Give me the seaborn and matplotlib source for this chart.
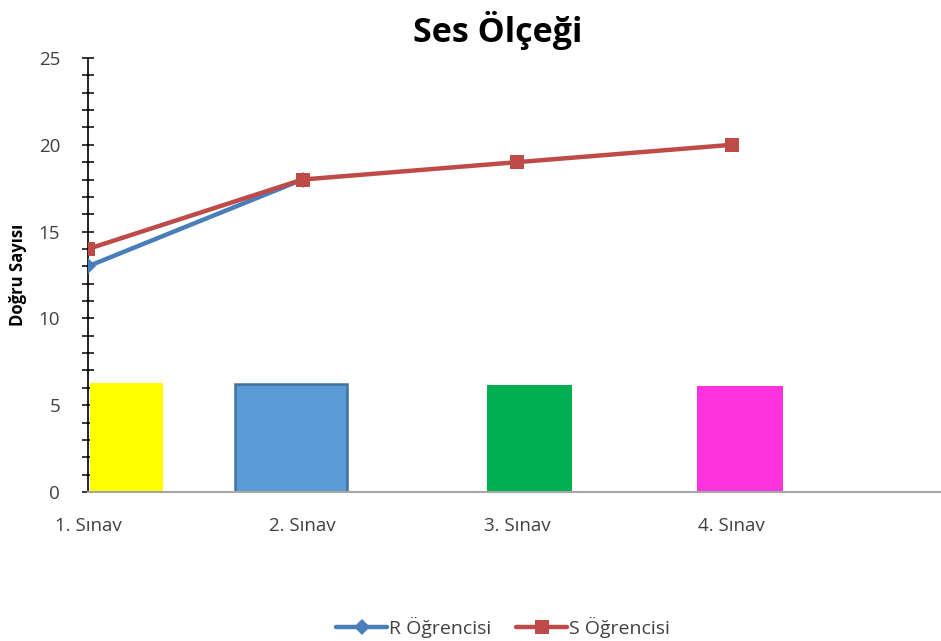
import matplotlib
matplotlib.use("Agg")
import matplotlib.pyplot as plt
from matplotlib.ticker import MultipleLocator
import seaborn as sns
import pandas as pd
import numpy as np

# ---- data ----
categories = ["1. Sınav", "2. Sınav", "3. Sınav", "4. Sınav"]
r_values = [13, 18, np.nan, np.nan]
s_values = [14, 18, 19, 20]
bar_heights = [6.3, 6.2, 6.15, 6.1]
bar_colors = ["#ffff00", "#5b9bd5", "#00b050", "#ff33dd"]
series_names = ["R Öğrencisi", "S Öğrencisi"]

sns.set_theme(style="white")
plt.rcParams['font.family'] = ['Open Sans', 'DejaVu Sans']

fig = plt.figure(figsize=(9.41, 6.41), dpi=100)
ax = fig.add_axes([88/941, 1-492/641, 852/941, 434/641])

# decorative bars (layout positions in data units)
bar_left = [0.01, 0.685, 1.858, 2.837]
bar_right = [0.35, 1.206, 2.254, 3.237]
lefts = np.array(bar_left)
widths = np.array(bar_right) - lefts
edge = ["none", "#41719c", "none", "none"]
for l, w, h, c, e in zip(lefts, widths, bar_heights, bar_colors, edge):
    ax.bar(l, h, width=w, align="edge", color=c, edgecolor=e,
           linewidth=1.8 if e != "none" else 0, zorder=2)

x = np.arange(len(categories))
df = pd.DataFrame({"x": x, "R": r_values, "S": s_values})
sns.lineplot(data=df, x="x", y="R", ax=ax, color="#4a7ebb", marker="D",
             markersize=8, linewidth=3.2, markeredgewidth=0, label=series_names[0], zorder=3)
sns.lineplot(data=df, x="x", y="S", ax=ax, color="#be4b48", marker="s",
             markersize=10, linewidth=3.2, markeredgewidth=0, label=series_names[1], zorder=4)

ax.set_xlim(0, 3.97)
ax.set_ylim(0, 25)
ax.set_xticks(x)
ax.set_xticklabels(categories, fontsize=13.5, color="#404040")
ax.yaxis.set_major_locator(MultipleLocator(5))
ax.yaxis.set_minor_locator(MultipleLocator(1))
ax.tick_params(axis="y", which="both", direction="inout", length=8, width=1.1,
               color="black", left=True, labelsize=13.5, labelcolor="#404040", pad=16)
ax.tick_params(axis="x", length=0, pad=18)

for sp in ["top", "right"]:
    ax.spines[sp].set_visible(False)
ax.spines["left"].set_color("black")
ax.spines["left"].set_linewidth(1.2)
ax.spines["bottom"].set_color("#a6a6a6")
ax.spines["bottom"].set_linewidth(1.5)

ax.set_xlabel("")
ax.set_ylabel("Doğru Sayısı", fontsize=12, fontweight="bold", color="black")
ax.yaxis.set_label_coords(-0.072, 0.5)

fig.text(498/941, 1-30/641, "Ses Ölçeği", fontsize=24.5, fontweight="bold",
         ha="center", va="center", color="black")

ax.get_legend().remove()
h, l = ax.get_legend_handles_labels()
fig.legend(h, l, loc="center", bbox_to_anchor=(503/941, 1-627/641), ncol=2,
           frameon=False, fontsize=14, handlelength=2.6, columnspacing=1.3,
           handletextpad=0.1, labelcolor="#404040")

fig.savefig("out.png", dpi=100, facecolor="white")
